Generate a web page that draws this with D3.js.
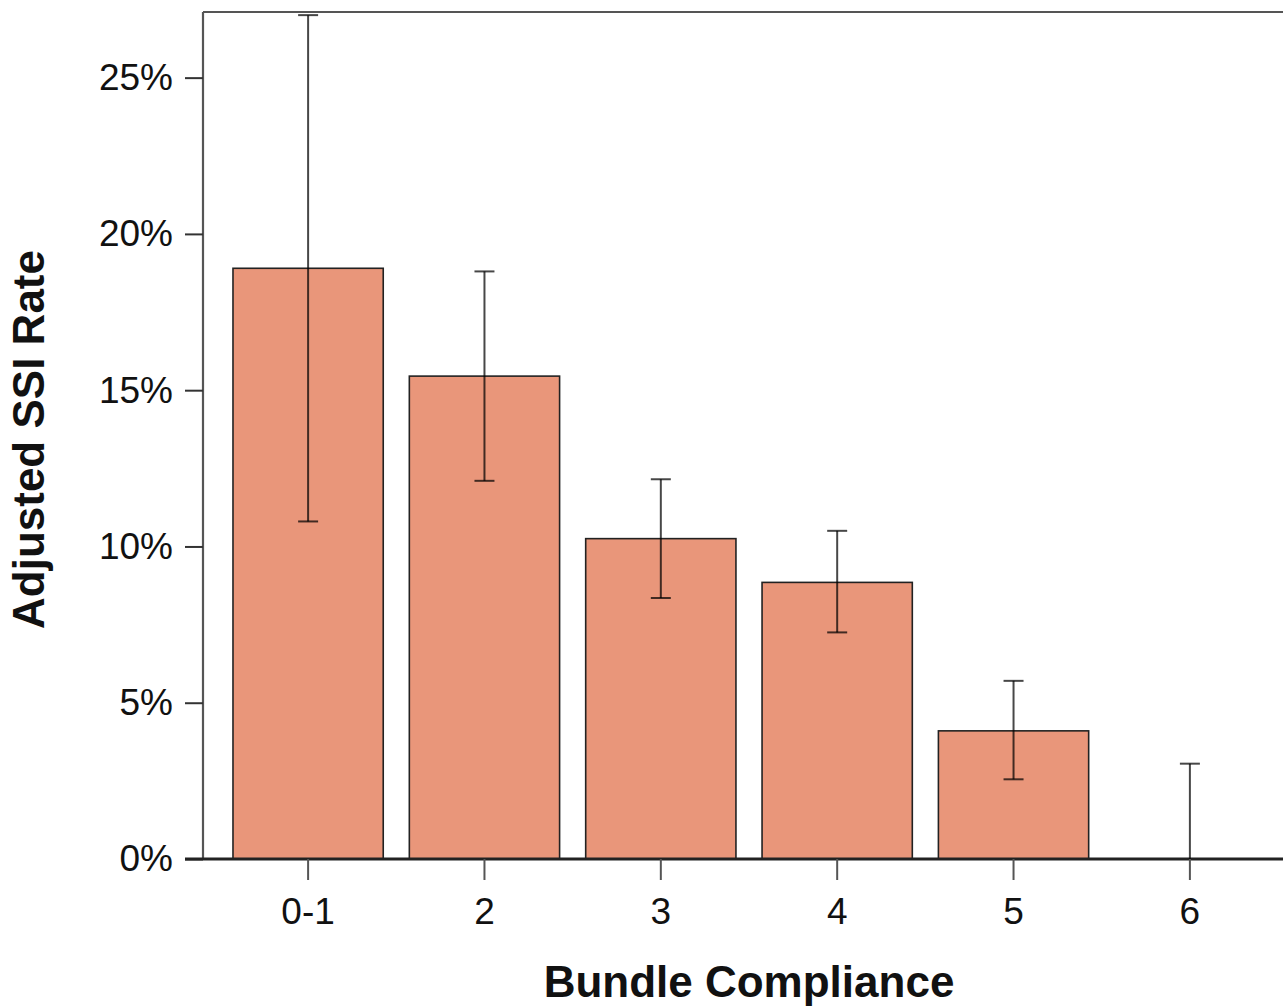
<!DOCTYPE html>
<html>
<head>
<meta charset="utf-8">
<script src="https://cdn.jsdelivr.net/npm/d3@7"></script>
<style>
  html, body { margin: 0; padding: 0; background: #fff; }
  svg { display: block; }
  text { font-family: "Liberation Sans", Arial, Helvetica, sans-serif; fill: #111; }
</style>
</head>
<body>
<svg id="chart" width="1283" height="1007"></svg>
<script>
// Adjusted SSI rate by number of bundle elements complied with
const categories = ["0-1", "2", "3", "4", "5", "6"];
const rates = [18.9, 15.45, 10.25, 8.85, 4.1, 0];      // percent
const ciLower = [10.8, 12.1, 8.35, 7.25, 2.55, 0];      // percent
const ciUpper = [27.0, 18.8, 12.15, 10.5, 5.7, 3.05];   // percent
const yTicks = [0, 5, 10, 15, 20, 25];
const yTickLabels = ["0%", "5%", "10%", "15%", "20%", "25%"];
const yLimit = 27.1;

const svg = d3.select("#chart");

const plot = { left: 203, right: 1295, top: 12, bottom: 859 };

const x = d3.scaleBand()
  .domain(categories)
  .range([plot.left, plot.right])
  .paddingInner(0.148)
  .paddingOuter(0.17);

const y = d3.scaleLinear()
  .domain([0, yLimit])
  .range([plot.bottom, plot.top]);

// Bars
svg.append("g")
  .selectAll("rect")
  .data(categories)
  .join("rect")
  .attr("x", d => x(d))
  .attr("width", x.bandwidth())
  .attr("y", (d, i) => y(rates[i]))
  .attr("height", (d, i) => y(0) - y(rates[i]))
  .attr("fill", "#E9967A")
  .attr("stroke", "#222")
  .attr("stroke-width", 1.6)
  .attr("display", (d, i) => rates[i] > 0 ? null : "none");

// Frame: top and left edges
svg.append("line")
  .attr("x1", plot.left).attr("x2", plot.right)
  .attr("y1", plot.top).attr("y2", plot.top)
  .attr("stroke", "#555").attr("stroke-width", 2);

// Y axis
const yAxis = svg.append("g")
  .attr("transform", `translate(${plot.left},0)`)
  .call(d3.axisLeft(y)
    .tickValues(yTicks)
    .tickFormat((d, i) => yTickLabels[i])
    .tickSize(18)
    .tickPadding(12));
yAxis.select(".domain")
  .attr("d", `M0,${plot.top}V${plot.bottom}`)
  .attr("stroke", "#555").attr("stroke-width", 2.2);
yAxis.selectAll(".tick line").attr("stroke", "#333").attr("stroke-width", 2);
yAxis.selectAll(".tick text")
  .style("font-size", "37px")
  .attr("fill", "#111");

// X axis
const xAxis = svg.append("g")
  .attr("transform", `translate(0,${plot.bottom})`)
  .call(d3.axisBottom(x).tickSize(21).tickPadding(18));
xAxis.select(".domain")
  .attr("d", `M${plot.left - 18},0H${plot.right}`)
  .attr("stroke", "#222").attr("stroke-width", 3);
xAxis.selectAll(".tick line").attr("stroke", "#555").attr("stroke-width", 2);
xAxis.selectAll(".tick text")
  .style("font-size", "37px")
  .attr("fill", "#111");

// Confidence interval whiskers
const cx = d => x(d) + x.bandwidth() / 2;
const capHalf = 10;
const err = svg.append("g")
  .attr("stroke", "#000")
  .attr("stroke-opacity", 0.72)
  .attr("stroke-width", 2);

err.selectAll("line.stem")
  .data(categories)
  .join("line")
  .attr("class", "stem")
  .attr("x1", cx).attr("x2", cx)
  .attr("y1", (d, i) => y(ciLower[i]))
  .attr("y2", (d, i) => y(ciUpper[i]));

err.selectAll("line.cap-hi")
  .data(categories)
  .join("line")
  .attr("class", "cap-hi")
  .attr("x1", d => cx(d) - capHalf).attr("x2", d => cx(d) + capHalf)
  .attr("y1", (d, i) => y(ciUpper[i]))
  .attr("y2", (d, i) => y(ciUpper[i]));

err.selectAll("line.cap-lo")
  .data(categories.filter((d, i) => ciLower[i] > 0))
  .join("line")
  .attr("class", "cap-lo")
  .attr("x1", d => cx(d) - capHalf).attr("x2", d => cx(d) + capHalf)
  .attr("y1", d => y(ciLower[categories.indexOf(d)]))
  .attr("y2", d => y(ciLower[categories.indexOf(d)]));

// Axis titles
svg.append("text")
  .attr("x", (plot.left + plot.right) / 2)
  .attr("y", 997)
  .attr("text-anchor", "middle")
  .style("font-size", "44px")
  .style("font-weight", "bold")
  .text("Bundle Compliance");

svg.append("text")
  .attr("transform", `translate(44,${(plot.top + plot.bottom) / 2 + 4}) rotate(-90)`)
  .attr("text-anchor", "middle")
  .style("font-size", "44px")
  .style("font-weight", "bold")
  .text("Adjusted SSI Rate");
</script>
</body>
</html>
